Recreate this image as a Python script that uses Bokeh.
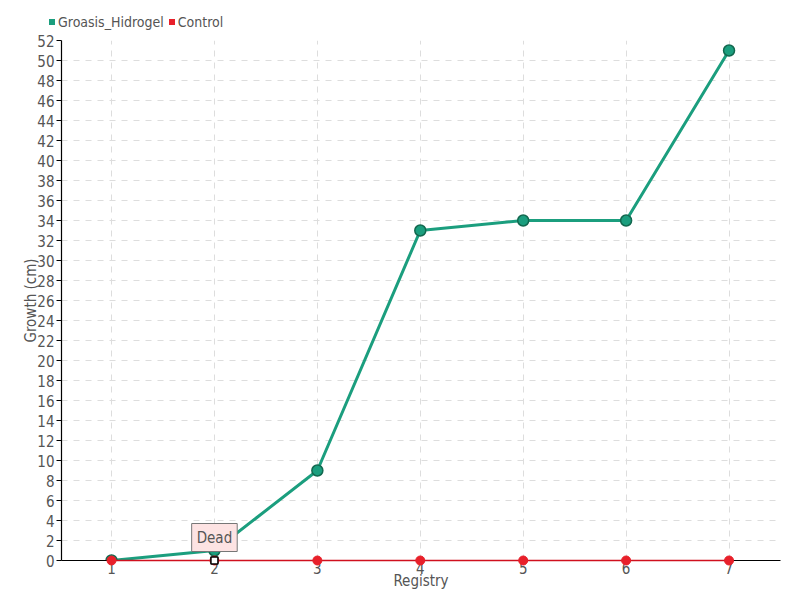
from bokeh.plotting import figure
from bokeh.layouts import column
from bokeh.models import (ColumnDataSource, Range1d, FixedTicker, Label, Div)
from bokeh.embed import file_html
from bokeh.resources import INLINE

registry = [1, 2, 3, 4, 5, 6, 7]
hidrogel = [0, 1, 9, 33, 34, 34, 51]
control = [0, 0, 0, 0, 0, 0, 0]
dead_x = [2]
dead_y = [0]
y_ticks = list(range(0, 53, 2))
series_names = ["Groasis_Hidrogel", "Control"]

FONT = "'Liberation Sans Narrow', 'DejaVu Sans Condensed', sans-serif"
TEXT = "#555555"
GREEN = "#1b9e7e"
RED = "#e8202a"
series_colors = [GREEN, RED]

W = 796

items = "".join(
    f'<span style="display:inline-block;width:6px;height:6px;background:{c};'
    f'margin-right:3px;vertical-align:middle;"></span>'
    f'<span style="vertical-align:middle;margin-right:5px;">{n}</span>'
    for n, c in zip(series_names, series_colors))
legend_div = Div(
    width=W, height=32, margin=0,
    text=f'<div style="padding-left:49px;padding-top:13px;font-family:{FONT};'
         f'font-size:14px;color:{TEXT};white-space:nowrap;line-height:16px;">{items}</div>')

p = figure(width=W, height=564, output_backend="svg", toolbar_location=None,
           x_range=Range1d(0.514, 7.5), y_range=Range1d(0, 52),
           min_border_left=61, min_border_right=16, min_border_top=8, min_border_bottom=36)
p.outline_line_color = None
p.background_fill_color = "white"

for ax in (p.xaxis[0], p.yaxis[0]):
    ax.axis_line_color = "black"
    ax.axis_line_width = 1.2
    ax.major_tick_line_color = "black"
    ax.minor_tick_line_color = None
    ax.major_label_text_font = FONT
    ax.major_label_text_font_size = "15px"
    ax.major_label_text_color = TEXT
    ax.axis_label_text_font = FONT
    ax.axis_label_text_font_size = "15px"
    ax.axis_label_text_color = TEXT
    ax.axis_label_text_font_style = "normal"

p.yaxis.ticker = FixedTicker(ticks=y_ticks)
p.yaxis.major_tick_out = 5
p.yaxis.major_tick_in = 0
p.yaxis.major_label_standoff = 2
p.yaxis.axis_label = "Growth (cm)"
p.yaxis.axis_label_standoff = -6
p.xaxis.ticker = FixedTicker(ticks=registry)
p.xaxis.major_tick_out = 0
p.xaxis.major_tick_in = 0
p.xaxis.major_label_standoff = 1
p.xaxis.axis_label = "Registry"
p.xaxis.axis_label_standoff = -5

p.grid.grid_line_color = "#dddddd"
p.grid.grid_line_dash = "6 6"
p.grid.grid_line_width = 1

src_g = ColumnDataSource(dict(x=registry, y=hidrogel))
src_c = ColumnDataSource(dict(x=registry, y=control))

p.line("x", "y", source=src_g, color=GREEN, line_width=3)
p.scatter("x", "y", source=src_g, size=11, fill_color=GREEN, line_color="#12684f", line_width=1.5)
p.line("x", "y", source=src_c, color="#d0101e", line_width=1.5, level="overlay")
p.scatter("x", "y", source=src_c, size=9, fill_color=RED, line_color=RED, level="overlay")
p.scatter(dead_x, dead_y, marker="square", size=7, fill_color="white", line_color="black",
          line_width=1.5, level="overlay")

lbl = Label(x=dead_x[0], y=dead_y[0], text="Dead", x_units="data", y_units="data",
            y_offset=9, text_align="center", text_baseline="bottom",
            text_font=FONT, text_font_size="15px", text_color=TEXT,
            background_fill_color="#fde3e3", border_line_color="#777777",
            border_line_width=1, padding=5)
p.add_layout(lbl)

open("out.html", "w").write(file_html(column(legend_div, p, spacing=0), INLINE))
